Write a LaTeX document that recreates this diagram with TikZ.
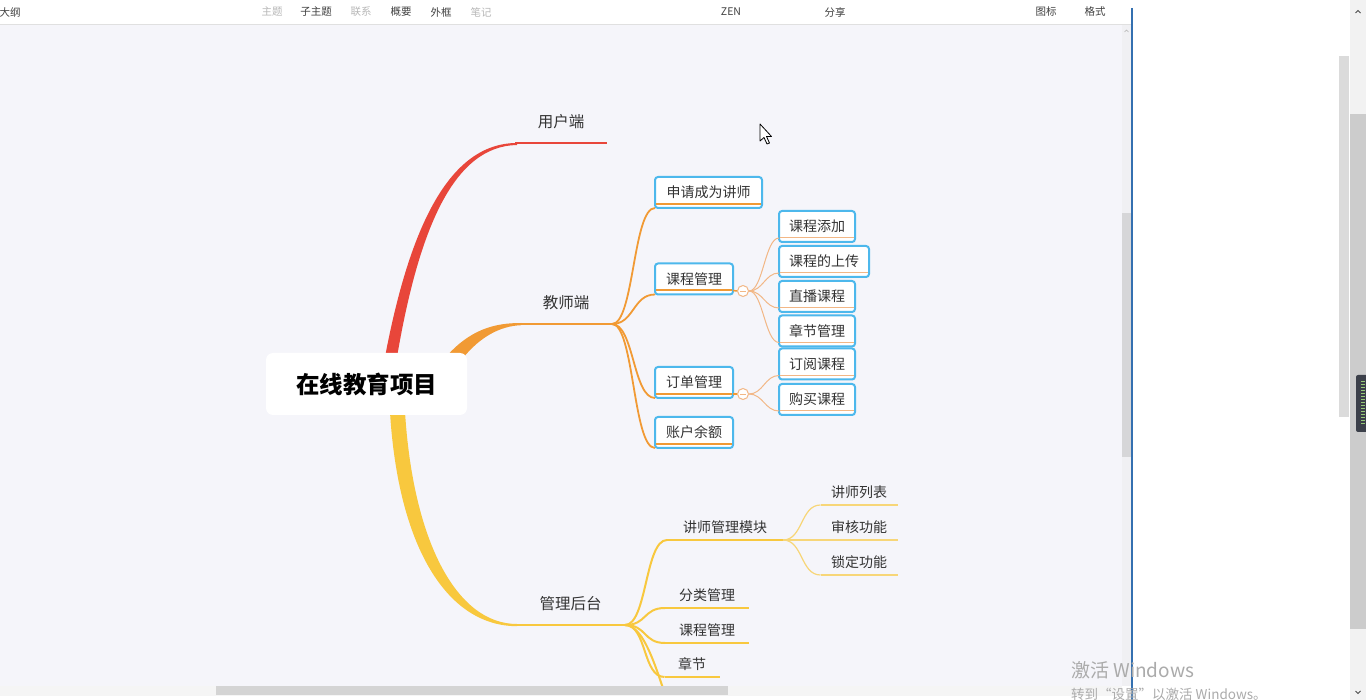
\documentclass[tikz,border=0pt]{standalone}
\usepackage{fontspec}
\setmainfont{Noto Sans CJK SC}
\usetikzlibrary{positioning,calc}
\definecolor{canvas}{RGB}{245,245,250}
\definecolor{brred}{RGB}{232,70,58}
\definecolor{brorange}{RGB}{241,154,52}
\definecolor{bryellow}{RGB}{248,200,62}
\definecolor{lorange}{RGB}{242,183,134}
\definecolor{lyellow}{RGB}{247,214,120}
\definecolor{boxblue}{RGB}{77,184,236}
\definecolor{txt}{RGB}{51,51,51}
\definecolor{barbg}{RGB}{240,240,243}
\definecolor{thumb}{RGB}{214,214,216}
\definecolor{winblue}{RGB}{52,112,176}
\definecolor{widget}{RGB}{60,64,74}
\definecolor{widgetln}{RGB}{150,200,120}

\begin{document}
\begin{tikzpicture}[x=1pt,y=-1pt,
  root/.style={fill=white,rounded corners=7pt,minimum width=201pt,minimum height=62pt,inner sep=0pt,font=\fontsize{23.5}{27}\selectfont\bfseries},
  mainlbl/.style={minimum height=42pt,inner sep=0pt,outer sep=0pt,text=txt,font=\fontsize{15.5}{18}\selectfont},
  leaf/.style={minimum height=26pt,inner sep=0pt,outer sep=0pt,text=txt,font=\fontsize{14}{16}\selectfont},
  tbox/.style={draw=boxblue,line width=2pt,fill=white,rounded corners=3pt,minimum height=31pt,inner sep=0pt,outer sep=0pt,text=txt,font=\fontsize{14}{16}\selectfont},
  knob/.style={circle,draw=lorange,fill=white,line width=1pt,minimum size=11pt,inner sep=0pt},
  tool/.style={font=\fontsize{10.5}{12}\selectfont,text=black!75},
  toolx/.style={font=\fontsize{10.5}{12}\selectfont,text=black!28},
  sub/.style={brorange,line width=1.8pt},
  subsub/.style={lorange,line width=1pt},
  asub/.style={bryellow,line width=2pt},
  asubsub/.style={lyellow,line width=1.2pt}]
\useasboundingbox (0,0) rectangle (1366,700);
\fill[canvas] (0,25) rectangle (1122,686);
\fill[white] (0,0) rectangle (1132,24);
\draw[black!12] (0,24.5) -- (1132,24.5);

\node[tool] (tbOutline) at (10,12) {大纲};
\node[toolx] (tbTopic) at (272,12) {主题};
\node[tool] (tbSubtopic) at (316,12) {子主题};
\node[toolx] (tbRelation) at (361,12) {联系};
\node[tool] (tbSummary) at (401,12) {概要};
\node[tool] (tbBoundary) at (441,12) {外框};
\node[toolx] (tbNote) at (481,12) {笔记};
\node[tool] (tbZen) at (731,12) {ZEN};
\node[tool] (tbShare) at (835,12) {分享};
\node[tool] (tbIcon) at (1046,12) {图标};
\node[tool] (tbFormat) at (1095,12) {格式};

\fill[brred] (385,357) .. controls (410,225) and (450,143) .. (517,143) -- (517,145) .. controls (454,146) and (419,228) .. (397,357) -- cycle;
\fill[brorange] (445,358) .. controls (470,329) and (495,323) .. (521,323) -- (521,325.2) .. controls (500,326) and (480,337) .. (463,358) -- cycle;
\fill[bryellow] (390,412) .. controls (398,545) and (446,626) .. (517,626.2) -- (517,624) .. controls (456,624) and (413,540) .. (405,412) -- cycle;

\node[root] (root) at (366.5,384) {在线教育项目};

\node[mainlbl,minimum width=92pt] (user) at (561,122) {用户端};
\node[mainlbl,minimum width=92pt] (teacher) at (566,303) {教师端};
\node[mainlbl,minimum width=109pt] (admin) at (570.5,604) {管理后台};
\draw[brred,line width=2pt] (user.south west) -- (user.south east);
\draw[brorange,line width=2.2pt] (teacher.south west) -- (teacher.south east);
\draw[bryellow,line width=2.2pt] (admin.south west) -- (admin.south east);

\node[tbox,minimum width=107pt] (apply) at (708.5,192.5) {申请成为讲师};
\node[tbox,minimum width=78pt] (course) at (694,279) {课程管理};
\node[tbox,minimum width=78pt] (order) at (694,382.5) {订单管理};
\node[tbox,minimum width=78pt] (balance) at (694,432.5) {账户余额};
\foreach \b in {apply,course,order,balance}{
  \draw[sub] (teacher.south east) .. controls +(22,0) and +(-22,0) .. (\b.south west);
  \draw[brorange,line width=2pt] ([xshift=1pt,yshift=4pt]\b.south west) -- ([xshift=-1pt,yshift=4pt]\b.south east);
}

\node[knob] (ck) at (743,291) {};
\node[knob] (ok) at (743,394) {};
\draw[brorange,line width=1.5pt] ([yshift=4pt]course.south east) -- (ck.west);
\draw[brorange,line width=1.5pt] ([yshift=4pt]order.south east) -- (ok.west);
\foreach \k in {ck,ok}
  \draw[lorange,line width=0.8pt] ([xshift=-3pt]\k.center) -- ([xshift=3pt]\k.center);

\node[tbox,minimum width=76pt] (cadd) at (817,226.5) {课程添加};
\node[tbox,minimum width=90pt] (cupload) at (824,261.5) {课程的上传};
\node[tbox,minimum width=76pt] (clive) at (817,296.5) {直播课程};
\node[tbox,minimum width=76pt] (cchap) at (817,331) {章节管理};
\node[tbox,minimum width=76pt] (osub) at (817,364) {订阅课程};
\node[tbox,minimum width=76pt] (obuy) at (817,399.5) {购买课程};
\foreach \b in {cadd,cupload,clive,cchap}
  \draw[subsub] (ck.east) .. controls +(14,0) and +(-14,0) .. ([yshift=4pt]\b.south west);
\foreach \b in {osub,obuy}
  \draw[subsub] (ok.east) .. controls +(14,0) and +(-14,0) .. ([yshift=4pt]\b.south west);
\foreach \b in {cadd,cupload,clive,cchap,osub,obuy}
  \draw[subsub] ([xshift=1pt,yshift=4pt]\b.south west) -- ([xshift=-1pt,yshift=4pt]\b.south east);

\node[leaf,minimum width=116pt] (tmod) at (725,527) {讲师管理模块};
\node[leaf,minimum width=84pt] (cat) at (707,595) {分类管理};
\node[leaf,minimum width=84pt] (acourse) at (707,630) {课程管理};
\node[leaf,minimum width=55pt] (chap) at (692,664) {章节};
\coordinate (amore) at (672,714);
\foreach \b in {tmod,cat,acourse,chap}{
  \draw[asub] (admin.south east) .. controls +(22,0) and +(-22,0) .. (\b.south west);
  \draw[asub] (\b.south west) -- (\b.south east);
}
\draw[asub] (admin.south east) .. controls +(22,0) and +(-12,-30) .. (amore);

\node[leaf,minimum width=77pt] (tlist) at (859,492) {讲师列表};
\node[leaf,minimum width=77pt] (taudit) at (859,527) {审核功能};
\node[leaf,minimum width=77pt] (tlock) at (859,562) {锁定功能};
\foreach \b in {tlist,taudit,tlock}{
  \draw[asubsub] (tmod.south east) .. controls +(20,0) and +(-20,0) .. (\b.south west);
  \draw[asubsub] (\b.south west) -- (\b.south east);
}

\fill[white] (760,124) -- (760,141) -- (764,137.5) -- (767,144) -- (769.5,143) -- (766.5,136.5) -- (771.5,136.5) -- cycle;
\draw[black,line width=0.8pt,line join=round] (760,124) -- (760,141) -- (764,137.5) -- (767,144) -- (769.5,143) -- (766.5,136.5) -- (771.5,136.5) -- cycle;

\fill[white] (0,686) rectangle (1132,700);
\fill[black!4] (0,686) rectangle (1122,696);
\fill[black!17] (216,686) rectangle (728,695);
\fill[barbg] (1122,25) rectangle (1131,686);
\fill[thumb] (1122,213) rectangle (1131,457);
\draw[black!30,line width=0.6pt] (1124.5,32) -- (1126.5,30) -- (1128.5,32);

\fill[white] (1133,0) rectangle (1366,700);
\draw[winblue,line width=1.3pt] (1132,8) -- (1132,700);
\fill[black!14] (1339,56) rectangle (1349,417);
\fill[black!5] (1350,0) rectangle (1366,700);
\fill[black!20] (1350,114) rectangle (1366,629);
\draw[black!70,line width=0.8pt] (1355.5,13) -- (1358,10.5) -- (1360.5,13);
\draw[black!70,line width=0.8pt] (1355.5,691) -- (1358,693.5) -- (1360.5,691);
\fill[widget,rounded corners=2pt] (1356,375) rectangle (1368,432);
\foreach \i in {0,...,14}
  \draw[widgetln,line width=0.4pt] (1361,381+3*\i) -- (1365,381+3*\i);

\node[anchor=west,inner sep=0pt,text=black!33,font=\fontsize{19}{22}\selectfont] (actv) at (1071,670) {激活 Windows};
\node[anchor=west,inner sep=0pt,text=black!33,font=\fontsize{13.5}{16}\selectfont] (actvhint) at (1071,694) {转到“设置”以激活 Windows。};
\end{tikzpicture}
\end{document}
